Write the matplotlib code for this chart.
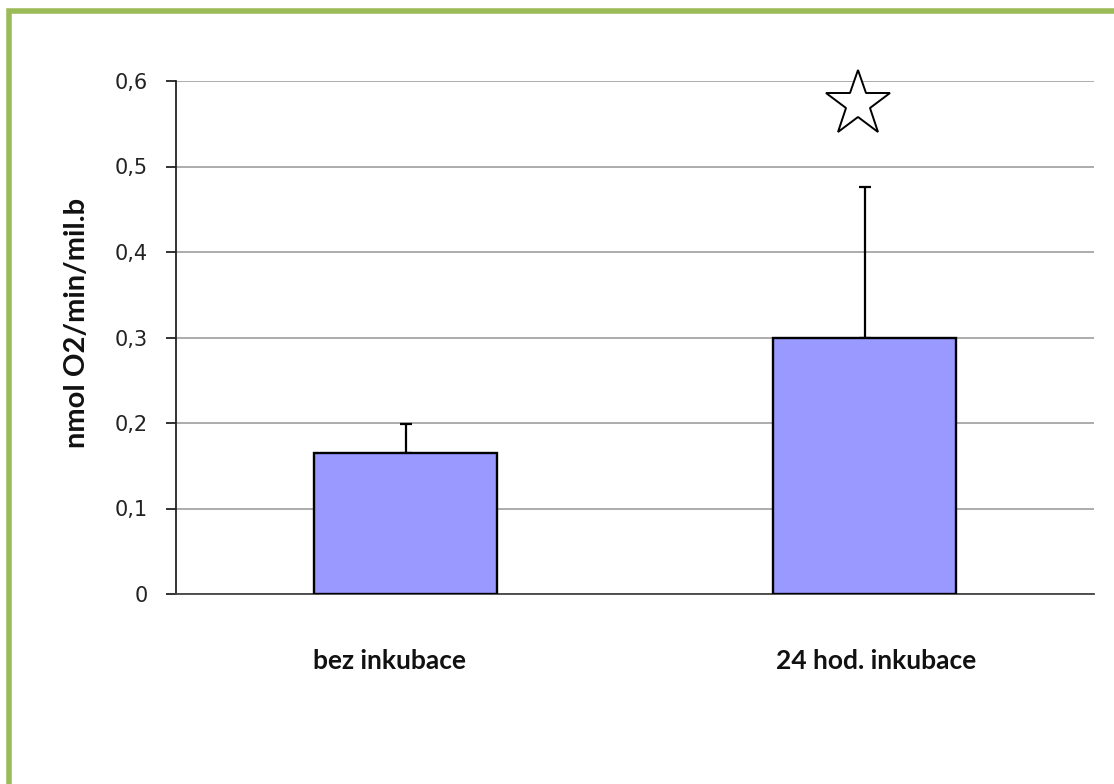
import matplotlib
matplotlib.use("Agg")
import matplotlib.pyplot as plt
from matplotlib.patches import Rectangle
from matplotlib.ticker import FuncFormatter

# Oxygen consumption per group
categories = ["bez inkubace", "24 hod. inkubace"]
means = [0.165, 0.300]
errors = [0.034, 0.176]
significant = [False, True]
y_ticks = [0.0, 0.1, 0.2, 0.3, 0.4, 0.5, 0.6]
y_label = "nmol O2/min/mil.b"

W, H = 1114, 784
fig = plt.figure(figsize=(W / 100, H / 100), dpi=100)
fig.patch.set_facecolor("white")

# Green frame around the chart area (bleeds past the right and bottom edges)
frame = Rectangle((8.5 / W, -0.1), 1.2, 1.1 - 11.5 / H, transform=fig.transFigure,
                  fill=False, edgecolor="#9BBB59", linewidth=4, clip_on=False)
fig.patches.append(frame)

ax = fig.add_axes([176 / W, 1 - 594 / H, (1094 - 176) / W, (594 - 81) / H])
x = list(range(len(categories)))
ax.bar(x, means, width=0.4, color="#9999FF", edgecolor="black", linewidth=1.7, zorder=3)
ax.errorbar(x, means, yerr=[[0] * len(errors), errors], fmt="none", ecolor="black",
            elinewidth=1.6, capsize=4.5, capthick=1.6, zorder=2)

for xi, m, e, s in zip(x, means, errors, significant):
    if s:
        ax.plot(xi - 0.015, 0.573, marker="*", markersize=49, markerfacecolor="white",
                markeredgecolor="black", markeredgewidth=1.4, clip_on=False, zorder=4)

ax.set_xlim(-0.5, 1.5)
ax.set_ylim(0, 0.6)
ax.set_yticks(y_ticks)
ax.yaxis.set_major_formatter(FuncFormatter(lambda v, p: "0" if v == 0 else f"{v:.1f}".replace(".", ",")))
ax.set_xticks([])
ax.grid(axis="y", color="#A6A6A6", linewidth=1.3, zorder=0)
ax.set_axisbelow(True)
for side in ("top", "right"):
    ax.spines[side].set_visible(False)
ax.spines["left"].set_linewidth(1.3)
ax.spines["bottom"].set_linewidth(1.3)
ax.spines["left"].set_color("#222222")
ax.spines["bottom"].set_color("#444444")
ax.tick_params(axis="y", direction="out", length=7, width=1.3, pad=13,
               labelsize=15, labelcolor="#222222", color="#222222")
for lbl in ax.get_yticklabels():
    lbl.set_fontfamily("DejaVu Sans")

# Category captions, nudged slightly off the bar centres
label_shift = [-0.035, 0.025]
for xi, c, dx in zip(x, categories, label_shift):
    ax.text(xi + dx, -0.078, c, transform=ax.transData, ha="center", va="center",
            fontsize=19, fontweight="bold", fontfamily="Lato", color="#111111")

fig.text(77 / W, 1 - 323 / H, y_label, rotation=90, ha="center", va="center",
         fontsize=21, fontweight="bold", fontfamily="Lato", color="#111111")

fig.savefig("out.png", dpi=100, facecolor="white")
